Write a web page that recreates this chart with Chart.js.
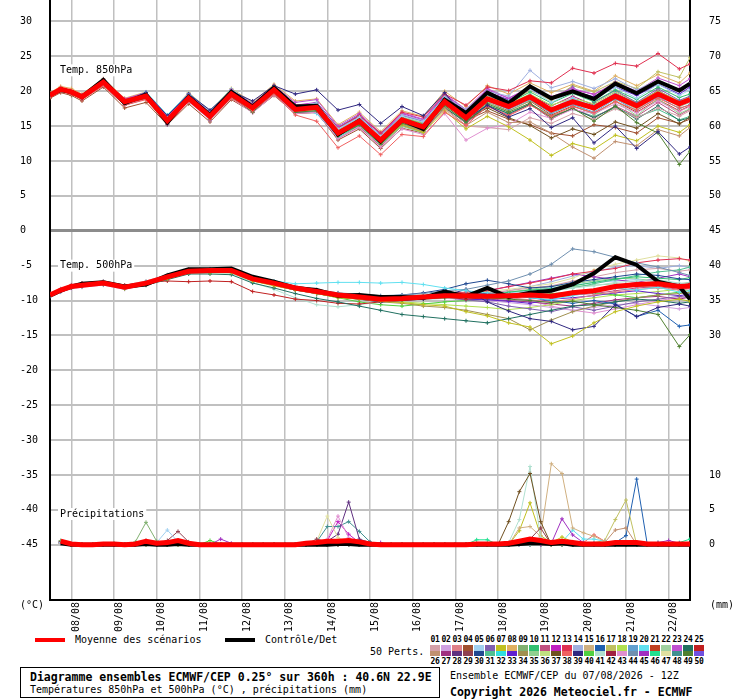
<!DOCTYPE html>
<html>
<head>
<meta charset="utf-8">
<script src="https://cdn.jsdelivr.net/npm/chart.js@4.4.0/dist/chart.umd.min.js"></script>
<style>
  body { margin: 0; background: #fff; width: 740px; height: 700px; position: relative; overflow: hidden;
         font-family: "DejaVu Sans Mono", monospace; font-size: 10px; color: #000; }
  #chart { position: absolute; left: 0; top: 0; }
  .t { position: absolute; white-space: pre; line-height: 12px; }
  .b { font-weight: bold; font-size: 11.5px; line-height: 14px; }
  .bar { position: absolute; height: 4px; width: 30px; }
  .num { position: absolute; width: 11px; text-align: center; font-weight: bold; font-size: 8px; line-height: 10px; letter-spacing: -0.3px; }
  .sw { position: absolute; width: 10px; }
  #box { position: absolute; left: 20px; top: 667px; width: 420px; height: 31px; border: 1px solid #000; box-sizing: border-box; }
</style>
</head>
<body>
<canvas id="chart" width="740" height="634"></canvas>

<div class="t" style="left:20px;top:599px">(°C)</div>
<div class="t" style="left:710px;top:599px">(mm)</div>

<div class="bar" style="left:35px;top:638px;background:#ff0000"></div>
<div class="t" style="left:75px;top:634px">Moyenne des scénarios</div>
<div class="bar" style="left:225px;top:638px;background:#000"></div>
<div class="t" style="left:265px;top:634px">Contrôle/Det</div>
<div class="t" style="left:370px;top:646px">50 Perts.</div>
<div id="perts"></div>

<div id="box"></div>
<div class="t b" style="left:30px;top:670px">Diagramme ensembles ECMWF/CEP 0.25° sur 360h : 40.6N 22.9E</div>
<div class="t" style="left:30px;top:684px">Températures 850hPa et 500hPa (°C) , précipitations (mm)</div>
<div class="t" style="left:450px;top:670px">Ensemble ECMWF/CEP du 07/08/2026 - 12Z</div>
<div class="t b" style="left:450px;top:685px">Copyright 2026 Meteociel.fr - ECMWF</div>

<script>
// ---- data ----------------------------------------------------------------
// forecast hours since 07/08 12Z (temperatures)
const tHours = [0, 6, 12, 18, 30, 42, 54, 66, 78, 90, 102,
                114, 126, 138, 150, 162, 174, 186, 198, 210, 222, 234,
                246, 258, 270, 282, 294, 306, 318, 330, 342, 354, 360];
// forecast hours (6h precipitation)
const pHours = [6, 12, 18, 24, 30, 36, 42, 48, 54, 60,
                66, 72, 78, 84, 90, 96, 102, 108, 114, 120,
                126, 132, 138, 144, 150, 156, 162, 168, 174, 180,
                186, 192, 198, 204, 210, 216, 222, 228, 234, 240,
                246, 252, 258, 264, 270, 276, 282, 288, 294, 300,
                306, 312, 318, 324, 330, 336, 342, 348, 354, 360];

const dayTicks = [12, 36, 60, 84, 108, 132, 156, 180, 204, 228, 252, 276, 300, 324, 348];
const dayLabels = ['08/08', '09/08', '10/08', '11/08', '12/08', '13/08', '14/08', '15/08',
                   '16/08', '17/08', '18/08', '19/08', '20/08', '21/08', '22/08'];
const tempTicks = [-45, -40, -35, -30, -25, -20, -15, -10, -5, 0, 5, 10, 15, 20, 25, 30];

// 850 hPa temperature
const t850Mean = [19.4, 20.3, 19.9, 19.2, 21.3, 18.5, 19.3, 15.8, 19.0, 16.4, 19.6,
                  17.6, 20.2, 17.4, 17.7, 14.0, 15.7, 13.0, 15.9, 14.9, 18.5, 16.2,
                  18.9, 17.8, 19.2, 17.3, 18.5, 17.6, 19.3, 17.9, 19.6, 18.2, 18.8];
const t850Ctrl = [19.5, 20.2, 19.9, 19.2, 21.6, 18.3, 19.5, 15.5, 19.2, 16.6, 19.9,
                  17.8, 20.5, 17.8, 17.9, 13.8, 15.8, 12.8, 15.9, 14.6, 18.8, 16.9,
                  19.8, 18.3, 20.7, 19.0, 20.0, 18.9, 21.1, 19.7, 21.4, 20.1, 21.1];
const t850Ids = [5, 39, 38, 49, 7, 26, 13, 14, 43, 1, 37, 23, 20, 24, 10, 6, 19, 35, 17, 2,
                 4, 8, 11, 12, 18, 21, 22, 27, 31, 33];
const t850Members = [
  [19.6,20.4,20.0,19.3,21.0,18.2,19.6,16.2,19.4,16.9,19.8, 17.9,20.6,17.9,18.3,14.6,16.3,13.5,16.4,15.6,19.1,17.0, 19.6,18.6,20.3,18.4,19.9,18.8,20.6,19.0,21.0,19.4,20.2],
  [19.5,20.2,19.8,19.0,21.2,18.6,19.8,16.5,19.6,17.3,20.0, 18.6,20.8,19.6,20.2,17.3,18.1,15.4,17.8,16.5,19.8,16.0, 18.0,16.3,17.5,14.8,16.2,12.6,15.0,11.8,14.2,11.0,12.0],
  [19.2,20.0,19.6,18.8,20.8,18.0,18.8,15.4,18.6,16.0,19.0, 17.2,19.6,16.6,15.7,11.9,13.6,10.9,13.8,13.5,17.0,15.1, 17.9,16.5,18.0,16.4,17.8,16.9,18.5,17.3,19.0,17.6,18.0],
  [19.3,20.1,19.7,19.0,21.0,18.2,19.0,15.5,18.7,16.0,19.2, 17.0,19.8,17.0,17.2,13.6,15.2,12.6,15.4,14.5,18.0,15.6, 18.2,17.0,18.3,16.2,17.6,15.7,17.9,15.5,14.0,9.5,11.4],
  [19.5,20.2,19.8,19.1,21.1,18.4,19.2,15.7,18.9,16.3,19.4, 17.3,19.9,17.2,17.4,13.7,15.4,12.5,15.2,14.1,17.2,14.6, 16.4,14.9,13.0,10.8,12.5,11.7,13.7,12.9,15.0,14.1,15.2],
  [19.4,20.3,19.9,19.2,21.2,18.5,19.4,15.9,19.1,16.4,19.5, 17.5,20.0,17.5,17.8,14.3,15.9,13.2,15.5,14.2,17.6,15.1, 17.0,15.5,15.6,14.0,12.0,10.4,12.8,12.2,14.5,13.6,14.8],
  [19.6,20.5,20.1,19.4,21.5,18.8,19.6,16.1,19.3,16.8,20.0, 18.0,20.5,18.0,18.2,14.7,16.5,14.0,17.0,16.3,19.6,18.0, 20.6,20.1,21.5,21.2,23.3,22.6,24.0,23.6,25.4,23.2,23.9],
  [19.4,20.2,19.8,19.2,21.3,18.6,19.5,16.0,19.2,16.6,19.8, 17.9,20.4,17.8,18.1,14.5,16.2,13.6,16.6,15.8,19.2,17.4, 20.0,19.3,23.0,20.5,21.4,20.4,21.8,20.2,21.6,20.2,21.0],
  [19.3,20.1,19.7,19.0,20.9,18.1,18.9,15.4,18.5,15.9,19.0, 16.9,19.5,16.8,17.0,13.2,14.8,12.0,14.6,13.8,16.8,13.0, 14.7,15.2,17.0,16.1,17.4,16.8,18.2,16.9,18.6,17.1,17.8],
  [19.4,20.2,19.8,19.1,21.0,18.3,19.1,15.6,18.8,16.2,19.3, 17.4,19.9,17.3,17.5,13.9,15.5,12.8,15.3,14.4,17.4,15.0, 14.8,14.5,16.2,15.4,16.8,16.0,17.5,16.2,17.6,16.4,17.2],
  [19.5,20.3,19.9,19.3,21.2,18.5,19.3,15.8,19.0,16.5,19.5, 17.5,20.1,17.6,17.9,14.2,15.8,13.1,15.8,14.8,18.2,15.9, 17.6,16.2,15.1,13.3,14.6,13.8,15.6,14.7,16.8,15.3,16.3],
  [19.6,20.4,20.0,19.4,21.7,18.9,19.8,16.4,19.6,17.0,20.2, 18.2,20.8,18.4,18.8,15.0,16.8,14.0,16.9,16.0,19.6,17.4, 20.4,19.0,20.6,19.2,20.4,19.5,21.3,20.0,21.9,20.8,21.8],
  [19.5,20.3,19.9,19.3,21.4,18.6,19.9,16.6,19.7,17.2,20.3, 18.2,20.6,17.6,16.8,13.4,15.3,12.7,16.0,15.2,18.8,16.8, 19.0,17.9,19.5,17.5,18.9,17.9,19.6,17.8,19.8,18.1,18.7],
  [19.3,20.1,19.8,19.1,21.1,18.3,19.0,15.6,18.8,16.1,19.2, 17.2,19.8,17.0,17.0,13.5,15.2,12.4,15.3,14.3,17.6,15.6, 18.0,16.8,18.1,16.3,17.5,16.2,17.8,16.0,17.9,15.8,16.2],
  [19.4,20.3,20.0,19.3,21.4,18.7,19.5,16.0,19.2,16.7,19.9, 17.8,20.3,17.7,18.0,14.3,16.0,13.3,16.2,15.3,18.9,16.7, 19.5,18.3,19.9,18.3,19.7,18.5,20.2,18.8,20.6,19.1,19.6],
  [19.5,20.4,20.0,19.4,21.5,18.8,19.7,15.2,19.3,15.8,19.6, 17.6,20.1,17.6,18.4,14.8,16.6,13.8,16.6,15.6,19.4,16.8, 19.9,18.7,20.8,18.9,20.6,18.4,20.1,18.4,20.4,18.7,19.3],
  [19.4,20.2,19.9,19.2,21.2,18.5,19.2,15.7,19.0,16.4,19.6, 17.6,20.1,17.4,17.5,13.6,15.4,12.6,15.6,14.7,18.3,15.8, 18.6,17.4,18.8,16.8,18.1,17.0,18.9,17.2,19.2,17.5,18.1],
  [19.5,20.3,19.9,19.2,21.1,18.4,19.3,15.9,19.1,16.5,19.7, 17.7,20.2,17.3,17.3,13.4,15.1,12.3,15.0,14.0,17.9,15.5, 18.4,17.1,18.7,16.9,18.3,16.6,18.6,16.5,18.9,16.8,17.5],
  [19.6,20.4,20.1,19.4,21.4,18.7,19.6,16.2,19.4,16.8,19.9, 17.9,20.4,17.8,18.1,14.5,16.2,13.5,16.4,15.5,19.0,16.9, 19.8,18.4,20.1,18.7,20.8,19.9,21.4,20.4,22.8,22.0,24.8],
  [19.4,20.2,19.8,19.1,21.2,18.4,19.4,15.8,19.0,16.3,19.5, 17.4,19.9,17.1,17.2,13.8,15.6,12.9,15.8,14.8,18.6,16.1, 18.7,17.6,19.0,17.5,19.1,17.4,19.2,17.7,19.5,18.0,18.5],
  [19.0,19.8,19.4,18.6,20.6,17.6,18.4,15.2,18.2,15.6,18.8, 17.0,19.4,16.8,17.0,13.0,14.6,11.8,14.7,14.0,17.8,15.8, 17.2,16.0,15.2,14.0,13.6,15.2,14.8,14.0,16.2,15.4,16.0],
  [19.8,20.7,20.4,19.6,21.8,19.0,19.9,16.5,19.8,17.2,20.4, 18.4,21.0,18.6,18.9,15.2,17.0,14.2,17.2,16.4,20.0,17.8, 20.8,19.6,21.2,19.8,21.0,20.0,22.2,20.8,22.4,21.2,22.6],
  [19.2,20.0,19.6,18.9,20.8,18.0,18.9,15.4,18.6,16.1,19.1, 17.0,19.6,16.9,16.9,13.2,14.9,12.1,15.0,14.2,17.8,15.4, 17.8,16.6,18.2,16.0,17.6,16.2,17.9,16.4,18.4,16.6,17.4],
  [19.7,20.5,20.1,19.5,21.6,18.9,19.8,16.3,19.5,16.9,20.1, 18.1,20.6,18.0,18.4,14.8,16.6,13.9,16.8,15.9,19.5,17.3, 20.2,19.0,20.5,19.1,20.2,19.6,20.9,19.8,21.2,20.3,21.0],
  [19.5,20.4,20.0,19.4,21.5,18.7,19.7,16.3,19.5,17.0,20.0, 17.9,20.4,17.8,18.0,14.4,16.1,13.4,16.3,15.4,19.2,16.6, 19.2,18.2,19.6,18.0,19.0,18.2,19.9,18.4,20.0,18.6,19.2],
  [19.3,20.1,19.8,19.1,21.1,18.3,19.1,15.7,18.9,16.2,19.4, 17.4,20.0,17.2,17.4,13.8,15.5,12.7,15.6,14.6,18.2,15.9, 18.4,17.2,18.6,16.6,17.9,16.8,18.6,17.0,18.8,17.2,17.9],
  [19.4,20.3,19.9,19.2,21.3,18.5,19.4,15.9,19.1,16.5,19.7, 17.6,20.2,17.5,17.6,13.9,15.6,12.9,15.9,14.9,18.5,16.3, 19.2,17.8,19.3,17.4,18.7,17.3,19.0,17.4,19.4,17.8,18.4],
  [19.6,20.5,20.1,19.3,21.4,18.6,19.4,15.9,19.2,16.6,19.7, 17.7,20.3,17.6,17.9,14.2,15.9,13.1,16.1,15.1,18.7,16.4, 19.4,18.0,19.4,17.9,19.3,18.0,19.7,18.3,20.1,18.5,19.0],
  [19.2,20.0,19.7,19.0,21.0,18.2,19.0,15.5,18.7,16.1,19.2, 17.2,19.8,17.1,17.2,13.4,15.1,12.3,15.1,14.2,17.8,15.4, 18.0,16.8,18.2,16.5,17.4,16.4,17.6,16.3,17.4,15.9,16.4],
  [19.5,20.3,19.9,19.3,21.5,18.7,19.6,16.2,19.4,16.9,19.9, 18.0,20.5,17.9,18.3,14.6,16.4,13.6,16.5,15.7,19.3,17.1, 19.9,18.8,20.2,18.9,20.0,19.2,20.6,19.4,21.0,19.6,20.6]
];

// 500 hPa temperature
const t500Mean = [-9.2, -8.5, -8.0, -7.8, -7.5, -8.1, -7.5, -6.6, -5.8, -5.7, -5.7,
                  -6.9, -7.5, -8.2, -8.7, -9.2, -9.5, -9.8, -9.7, -9.5, -9.3, -9.3,
                  -9.4, -9.3, -9.2, -9.4, -8.9, -8.6, -8.0, -7.7, -7.6, -8.0, -7.9];
const t500Ctrl = [-9.3, -8.6, -8.0, -7.6, -7.4, -8.0, -7.7, -6.4, -5.5, -5.5, -5.4,
                  -6.6, -7.3, -8.2, -8.5, -9.3, -9.2, -9.5, -9.5, -9.6, -8.7, -9.4,
                  -8.2, -9.5, -8.9, -8.6, -7.7, -6.1, -3.8, -4.9, -7.3, -8.0, -9.8];
const t500Ids = [20, 7, 44, 39, 49, 16, 24, 34, 25, 41, 30, 13, 47, 10, 6, 31, 3, 45, 33, 40,
                 1, 2, 5, 11, 14, 18, 22, 27, 35, 43];
const t500Members = [
  [-9.1,-8.4,-7.9,-7.6,-7.3,-7.9,-7.3,-6.4,-5.7,-5.5,-5.6, -6.6,-7.2,-7.6,-7.5,-7.4,-7.4,-7.5,-7.4,-7.7,-8.2,-8.6, -8.9,-9.1,-9.6,-9.9,-9.3,-8.8,-8.2,-8.5,-8.1,-8.8,-8.6],
  [-9.2,-8.6,-8.1,-7.9,-7.6,-8.3,-7.7,-6.9,-6.0,-6.0,-6.0, -7.2,-7.9,-8.5,-9.0,-9.6,-9.8,-10.1,-10.3,-10.6,-10.8,-11.6, -12.2,-13.2,-13.8,-16.2,-15.1,-13.2,-11.6,-10.8,-10.2,-9.8,-10.1],
  [-9.1,-8.4,-7.9,-7.7,-7.3,-8.0,-7.4,-6.5,-5.6,-5.5,-5.5, -6.7,-7.4,-8.0,-8.5,-8.9,-9.1,-9.3,-9.2,-9.0,-8.6,-8.4, -7.8,-7.2,-6.2,-4.8,-2.6,-3.0,-3.8,-4.6,-5.2,-6.0,-6.4],
  [-9.3,-8.6,-8.1,-7.9,-7.6,-8.2,-7.6,-6.8,-6.0,-5.9,-5.9, -7.1,-7.8,-8.5,-9.0,-9.5,-9.8,-10.2,-10.0,-9.8,-9.3,-8.4, -10.2,-11.5,-12.6,-13.0,-14.2,-13.7,-10.6,-12.3,-11.0,-10.5,-10.8],
  [-9.2,-8.5,-8.0,-7.8,-7.5,-8.1,-7.5,-6.7,-5.9,-5.8,-5.8, -7.0,-7.6,-8.3,-8.8,-9.3,-9.6,-9.9,-10.0,-9.8,-9.6,-9.4, -9.6,-9.8,-10.0,-10.3,-10.1,-10.6,-11.0,-11.4,-12.0,-16.6,-14.9],
  [-9.2,-8.5,-8.0,-7.8,-7.4,-8.0,-7.4,-6.5,-5.7,-5.6,-5.6, -6.8,-7.4,-8.1,-8.6,-9.1,-9.4,-9.7,-9.5,-9.4,-9.2,-9.1, -9.0,-9.2,-9.6,-10.0,-10.4,-10.0,-10.5,-12.3,-11.4,-13.7,-13.5],
  [-9.3,-8.7,-8.2,-8.0,-7.7,-8.3,-7.8,-7.0,-6.2,-6.2,-6.3, -7.5,-8.2,-9.0,-9.7,-10.2,-10.8,-11.4,-12.0,-12.3,-12.6,-12.9, -13.2,-12.6,-12.0,-11.4,-10.8,-10.6,-10.2,-9.8,-10.0,-10.4,-10.2],
  [-9.2,-8.5,-8.0,-7.8,-7.5,-8.1,-7.5,-6.7,-5.9,-5.8,-5.8, -7.0,-7.7,-8.4,-8.9,-9.4,-9.8,-10.2,-10.4,-10.8,-11.0,-11.4, -12.0,-12.6,-14.2,-12.8,-11.6,-10.8,-10.2,-9.6,-9.2,-9.0,-8.8],
  [-9.1,-8.4,-7.8,-7.5,-7.3,-7.8,-7.4,-7.2,-7.3,-7.2,-7.3, -8.7,-9.2,-9.8,-10.0,-10.4,-10.5,-10.2,-10.0,-9.6,-9.5,-9.8, -9.6,-9.2,-9.0,-9.3,-8.8,-8.5,-8.0,-7.6,-7.3,-7.8,-7.6],
  [-9.2,-8.5,-8.0,-7.8,-7.5,-8.1,-7.6,-6.8,-6.1,-6.0,-6.1, -7.4,-8.4,-9.6,-10.6,-10.9,-10.6,-10.2,-10.0,-9.8,-9.7,-9.6, -9.4,-9.2,-9.0,-8.7,-8.2,-7.9,-7.4,-7.2,-7.0,-7.5,-7.6],
  [-9.2,-8.6,-8.0,-7.7,-7.4,-8.0,-7.5,-6.5,-5.7,-5.6,-5.6, -6.8,-7.5,-8.1,-8.6,-9.0,-9.2,-9.4,-9.2,-8.9,-8.4,-7.6, -7.1,-7.6,-8.2,-8.0,-7.4,-7.0,-6.6,-6.2,-6.4,-6.9,-7.0],
  [-9.2,-8.5,-8.0,-7.8,-7.5,-8.0,-7.4,-6.6,-5.8,-5.7,-5.8, -6.9,-7.5,-8.2,-8.7,-9.2,-9.5,-9.7,-9.6,-9.4,-9.0,-8.8, -8.6,-8.0,-7.5,-6.9,-6.2,-5.8,-5.4,-4.6,-4.2,-4.0,-4.2],
  [-9.2,-8.5,-8.0,-7.8,-7.5,-8.1,-7.5,-6.6,-5.8,-5.7,-5.8, -7.0,-7.6,-8.3,-8.8,-9.2,-9.4,-9.5,-9.4,-9.2,-9.0,-8.9, -8.7,-8.4,-8.0,-7.6,-6.8,-5.6,-4.8,-4.2,-3.6,-3.9,-4.4],
  [-9.3,-8.6,-8.1,-7.9,-7.6,-8.2,-7.6,-6.7,-5.9,-5.8,-5.9, -7.1,-7.7,-8.4,-8.9,-9.4,-9.7,-10.0,-9.9,-9.6,-9.4,-9.5, -9.3,-8.8,-8.5,-8.3,-7.9,-7.4,-6.9,-6.6,-6.8,-7.0,-6.7],
  [-9.1,-8.4,-7.9,-7.6,-7.4,-8.0,-7.4,-6.5,-5.7,-5.6,-5.6, -6.8,-7.4,-8.1,-8.6,-9.1,-9.4,-9.7,-9.8,-9.7,-9.6,-9.9, -10.2,-10.8,-11.2,-11.6,-10.9,-11.4,-10.8,-10.2,-9.8,-9.4,-9.6],
  [-9.2,-8.6,-8.1,-7.8,-7.6,-8.2,-7.6,-6.7,-5.9,-5.8,-5.8, -7.0,-7.6,-8.3,-8.8,-9.3,-9.6,-9.9,-9.8,-9.6,-9.4,-9.4, -9.5,-9.4,-9.0,-8.6,-8.2,-7.6,-7.0,-6.4,-5.9,-5.6,-5.2],
  [-9.2,-8.5,-8.0,-7.8,-7.5,-8.1,-7.5,-6.6,-5.8,-5.7,-5.7, -6.9,-7.5,-8.2,-8.7,-9.2,-9.5,-9.8,-9.7,-9.5,-9.3,-9.2, -9.4,-9.6,-9.9,-10.2,-9.8,-9.2,-8.8,-8.4,-8.2,-8.5,-8.3],
  [-9.1,-8.4,-7.9,-7.7,-7.4,-8.0,-7.5,-6.6,-5.8,-5.6,-5.6, -6.8,-7.4,-8.1,-8.6,-9.1,-9.4,-9.6,-9.5,-9.3,-9.1,-9.0, -8.6,-8.0,-7.4,-6.8,-6.2,-6.6,-7.0,-7.4,-6.8,-6.2,-6.6],
  [-9.3,-8.6,-8.1,-7.9,-7.6,-8.2,-7.6,-6.7,-5.9,-5.8,-5.9, -7.1,-7.7,-8.4,-8.9,-9.3,-9.6,-9.9,-9.8,-9.7,-9.6,-9.8, -9.9,-10.1,-10.4,-9.8,-9.6,-9.3,-8.9,-8.6,-9.0,-9.3,-9.1],
  [-9.2,-8.5,-8.0,-7.8,-7.5,-8.1,-7.5,-6.7,-5.8,-5.7,-5.8, -7.0,-7.7,-8.4,-9.0,-9.6,-10.2,-10.6,-10.8,-10.5,-10.2,-10.0, -9.8,-9.6,-9.3,-9.0,-8.8,-8.9,-9.2,-9.6,-9.2,-8.8,-9.0],
  [-9.0,-8.3,-7.7,-7.5,-7.2,-7.8,-7.2,-6.3,-5.5,-5.4,-5.4, -6.6,-7.2,-7.9,-8.4,-8.9,-9.2,-9.5,-9.5,-9.3,-9.1,-9.0, -8.9,-8.6,-8.2,-7.9,-7.2,-6.6,-6.0,-5.6,-5.4,-5.8,-5.6],
  [-9.4,-8.8,-8.3,-8.1,-7.8,-8.4,-7.8,-6.9,-6.1,-6.0,-6.0, -7.2,-7.8,-8.5,-9.0,-9.5,-9.8,-10.1,-10.0,-9.8,-9.7,-9.8, -10.0,-10.3,-10.6,-11.0,-11.4,-11.0,-10.6,-10.4,-10.8,-11.2,-11.0],
  [-9.1,-8.4,-7.9,-7.7,-7.4,-8.0,-7.4,-6.5,-5.7,-5.6,-5.6, -6.8,-7.4,-8.1,-8.6,-9.1,-9.4,-9.6,-9.6,-9.4,-9.1,-8.9, -8.8,-8.9,-8.6,-8.2,-7.8,-7.4,-7.2,-7.0,-7.3,-7.6,-7.5],
  [-9.3,-8.6,-8.1,-7.9,-7.6,-8.2,-7.6,-6.7,-5.9,-5.8,-5.8, -7.0,-7.6,-8.3,-8.9,-9.4,-9.7,-10.0,-9.9,-9.7,-9.5,-9.6, -9.7,-9.5,-9.4,-9.6,-9.2,-9.0,-8.6,-8.2,-8.0,-8.4,-8.2],
  [-9.2,-8.5,-8.0,-7.7,-7.4,-8.0,-7.4,-6.5,-5.7,-5.6,-5.6, -6.8,-7.4,-8.1,-8.6,-9.1,-9.4,-9.6,-9.5,-9.3,-9.2,-9.1, -9.0,-8.6,-8.0,-7.3,-6.5,-5.9,-5.2,-5.0,-5.4,-5.0,-5.3],
  [-9.2,-8.6,-8.1,-7.9,-7.6,-8.2,-7.6,-6.8,-6.0,-5.9,-6.0, -7.2,-7.8,-8.5,-9.0,-9.5,-9.8,-10.1,-10.2,-10.4,-10.6,-10.8, -11.0,-11.3,-11.0,-10.6,-10.0,-9.6,-9.2,-9.0,-8.7,-8.4,-8.6],
  [-9.1,-8.4,-7.9,-7.7,-7.4,-8.0,-7.4,-6.6,-5.8,-5.7,-5.7, -6.9,-7.5,-8.2,-8.7,-9.2,-9.5,-9.8,-9.7,-9.5,-9.3,-9.3, -9.2,-9.0,-8.8,-8.5,-8.0,-7.8,-7.6,-7.9,-8.2,-8.1,-8.0],
  [-9.2,-8.5,-8.0,-7.8,-7.5,-8.1,-7.5,-6.6,-5.8,-5.7,-5.8, -7.0,-7.6,-8.3,-8.8,-9.3,-9.6,-9.9,-9.8,-9.6,-9.5,-9.6, -9.8,-10.0,-10.2,-10.5,-10.8,-10.4,-9.9,-9.6,-9.4,-9.8,-9.5],
  [-9.3,-8.6,-8.1,-7.9,-7.6,-8.2,-7.6,-6.7,-5.9,-5.8,-5.9, -7.1,-7.7,-8.4,-8.9,-9.4,-9.7,-10.0,-9.9,-9.7,-9.4,-9.3, -9.1,-8.8,-8.4,-8.0,-7.6,-7.2,-6.8,-6.9,-7.2,-7.6,-7.4],
  [-9.1,-8.4,-7.9,-7.7,-7.4,-8.0,-7.4,-6.5,-5.7,-5.6,-5.6, -6.8,-7.4,-8.1,-8.6,-9.1,-9.4,-9.7,-9.6,-9.4,-9.2,-9.1, -9.3,-9.6,-10.0,-10.8,-11.4,-11.8,-11.2,-10.6,-10.0,-9.6,-9.4]
];

// 6h precipitation (mm)
const precipMean = [
  0.5,0.1,0,0,0.1,0.1,0,0.1,0.5,0.2,
  0.3,0.6,0.2,0,0,0,0,0,0,0,
  0,0,0,0.2,0.3,0.5,0.5,0.6,0.4,0.1,
  0,0,0,0,0,0,0,0,0,0.1,
  0.1,0.1,0.2,0.5,0.8,0.6,0.3,0.5,0.3,0.1,
  0.1,0.1,0.3,0.3,0.3,0.1,0.1,0.1,0.1,0.1];
const precipCtrl = [
  0.2,0,0,0,0,0,0,0,0.1,0,
  0,0.1,0,0,0,0,0,0,0,0,
  0,0,0,0,0,0,0.1,0.1,0,0,
  0,0,0,0,0,0,0,0,0,0,
  0,0,0,0.1,0.2,0.2,0.1,0.2,0,0,
  0,0,0,0,0,0,0,0,0,0];
const precipIds = [9, 5, 29, 45, 37, 41, 15, 7, 20, 38, 17, 26, 16, 46, 47, 43, 28, 48, 12, 40];
const precipMembers = [
  [0.6,0,0,0,0.1,0.2,0,0.4,3.2,0.5, 0.2,0.3,0,0,0,0,0,0,0,0, 0,0,0,0,0,0,0,0,0,0, 0,0,0,0,0,0,0,0,0,0, 0,0,0,0.3,0.6,0.2,0,0,0,0, 0,0,0,0,0,0,0,0,0,0],
  [0.3,0.1,0,0,0,0.2,0,0,0.4,0.3, 2.1,0.4,0,0,0,0,0,0,0,0, 0,0,0,0,0,0.3,0.5,0.2,0,0, 0,0,0,0,0,0,0,0,0,0, 0,0,0,0,0.4,0.5,0.2,0,0,0, 0,0,0,0,0,0,0,0,0,0],
  [0.5,0,0,0,0,0,0,0,0.6,0.2, 0.6,1.9,0.4,0,0,0,0,0,0,0, 0,0,0,0,0.8,0.4,0.3,0.2,0,0, 0,0,0,0,0,0,0,0,0,0, 0,0,0,0.5,0.8,2.4,0,0,0,0, 0,0,0,0,0,0,0,0,0,0],
  [0.3,0,0,0,0,0,0,0,0.2,0, 0.2,0.3,0,0,0,0.8,0.2,0,0,0, 0,0,0,0,0,0,0,0,0,0, 0.3,0,0,0,0,0,0,0,0,0, 0,0,0,0,0.3,0,0.2,3.7,1.4,0.3, 0.2,0,0,0,0,0,0.3,0.6,0.2,0],
  [0.4,0,0,0,0,0,0,0,0.3,0, 0,0.5,0,0,0,0,0,0,0,0, 0,0,0,0,0,0,0,0,0,0, 0,0,0,0,0,0,0,0,0,0, 0,0,3.3,7.6,10.2,3.3,0,0,0,0, 0,0,0,0,0,0,0,0,0,0],
  [0.2,0,0,0,0,0,0,0,0,0, 0,0,0,0,0,0,0,0,0,0, 0,0,0,0,0,0.2,0.4,0,0,0, 0,0,0,0,0,0,0,0,0,0, 0,0,0.3,3.6,11.2,1.0,0,0,0,0, 0,0,0,0,0,0,0,0,0,0],
  [0.3,0,0,0,0,0,0,0,0,0, 0,0.2,0,0,0,0,0,0,0,0, 0,0,0,0,0,0,0,0,0,0, 0,0,0,0,0,0,0,0,0,0, 0,0,0,2.4,2.6,1.2,11.6,10.2,2.4,1.7, 1.2,0.5,0,0,0,0,0,0,0,0],
  [0.3,0,0,0,0,0,0,0,0,0, 0,0,0,0,0,0,0,0,0,0, 0,0,0,0,0,0,0,0.4,0.2,0, 0,0,0,0,0,0,0,0,0,0, 0,0,0,2.0,6.0,1.3,0.3,1.1,0.4,0, 0,0,0,0,0,0,0,0,0,0],
  [0.4,0,0,0,0,0,0,0,0.2,0, 0,0.3,0,0,0,0,0,0,0,0, 0,0,0,0,0,0,0,0,0,0, 0,0,0,0,0,0,0,0,0,0, 0,0,0,0,0,0,0.2,0.4,2.1,0.8, 0.8,0.5,0.3,0,0,0,0,0,0,0],
  [0.2,0,0,0,0,0,0,0,0,0, 0,0,0,0,0,0,0,0,0,0, 0,0,0,0,0,0,0,0,0,0, 0,0,0,0,0,0,0,0,0,0, 0,0,0,0,0,0,0,0,0,0.3, 1.4,0.5,0.2,0,0,0,0,0,0,0],
  [0.3,0,0,0,0,0,0,0,0,0, 0,0,0,0,0,0,0,0,0,0, 0,0,0,0,0,0,0,0,0,0, 0,0,0,0,0,0,0,0,0,0, 0,0,0,0,0,0,0,0,0,0, 0.3,0.6,3.6,6.4,0,0,0,0,0,0],
  [0.2,0,0,0,0,0,0,0,0,0, 0,0,0,0,0,0,0,0,0,0, 0,0,0,0,0,0,0,0,0,0, 0,0,0,0,0,0,0,0,0,0, 0,0,0,0,0,0,0,0,0,0, 0,0.3,2.1,2.4,0,0,0,0,0,0],
  [0.3,0,0,0,0,0,0,0,0,0, 0,0,0,0,0,0,0,0,0,0, 0,0,0,0,0,0.2,0,0,0,0, 0,0,0,0,0,0,0,0,0,0, 0,0,0,0,0,0,0,0,0,0, 0,0,0.3,1.3,9.4,0,0,0,0,0],
  [0.2,0,0,0,0,0,0,0,0,0, 0,0,0,0,0,0,0,0,0,0, 0,0,0,0,0,0,0,0,0,0, 0,0,0,0,0,0,0,0,0,0.7, 0.7,0,0,0,0,0,0,0,0,0, 0,0,0,0,0,0,0.3,0,0.3,0.8],
  [0.3,0,0,0,0,0,0,0,0,0, 0,0,0,0,0,0,0,0,0,0, 0,0,0,0.2,0.5,4.1,1.0,0.3,0,0, 0,0,0,0,0,0,0,0,0,0, 0,0,0,0,0,0,0,0,0,0, 0,0,0,0,0,0,0,0,0,0],
  [0.2,0,0,0,0,0,0,0,0,0, 0,0,0,0,0,0,0,0,0,0, 0,0,0,0,0.3,0.8,4.1,1.0,0.2,0, 0,0,0,0,0,0,0,0,0,0, 0,0,0,0,0,0,0,0,0,0, 0,0,0,0,0,0,0,0,0,0],
  [0.3,0,0,0,0,0,0,0,0,0, 0,0,0,0,0,0,0,0,0,0, 0,0,0,0,0.2,0.5,1.5,6.1,0.8,0.3, 0,0,0,0,0,0,0,0,0,0, 0,0,0,0,0,0,0,0,0,0, 0,0,0,0,0,0,0,0,0,0],
  [0.4,0,0,0,0,0,0,0,0,0, 0,0,0,0,0,0,0,0,0,0, 0,0,0,0,0.4,2.6,2.6,3.3,1.9,0.4, 0,0,0,0,0,0,0,0,0,0, 0,0,0,0,0,0,0,0,0,0, 0,0,0,0,0,0,0,0,0,0],
  [0.2,0,0,0,0,0,0,0,0,0, 0,0,0,0,0,0,0,0,0,0, 0,0,0,0,0,0.6,3.3,1.5,0.3,0, 0,0,0,0,0,0,0,0,0,0, 0,0,0,0,0,0,0,0,0,0, 0,0,0,0,0,0,0,0,0,0],
  [0.3,0,0,0,0,0,0,0,0,0, 0,0.2,0,0,0.6,0.1,0,0,0,0, 0,0,0,0,0,0,0,0,0,0, 0,0,0,0,0,0,0,0,0,0, 0,0,0,0,0,0,0.4,0,0,0, 0,0,0,0,0,0,0,0,0,0]
];

// precipitation sits on the temperature axis: 0 mm at -45 °C
const PRECIP_OFFSET = 45;

// member colours 01..50
const memberColors = [
  '#d4a0a8','#d0a0e0','#e08088','#a05030','#a0d0f0','#8060b0','#c0c020','#e0b060','#80b070','#30c070',
  '#c05080','#c020c0','#e03050','#a0b0e0','#d0b080','#2060b0','#c0c060','#b0e050','#60a0d0','#60e0f0',
  '#c04020','#a0d0a0','#c050d0','#207060','#c02020',
  '#c09070','#a03080','#603080','#904050','#204890','#50c090','#30e0e0','#6020d0','#a09050','#90d090',
  '#c0e080','#705020','#f06060','#302880','#50d040','#b0e0d0','#a02040','#e090d0','#7090b0','#a030c0',
  '#20e090','#e0e0a0','#409090','#508030','#7050e0'
];

// ---- chart ---------------------------------------------------------------
const FONT = '"DejaVu Sans Mono", monospace';

function toPoints(hours, values, shift) {
  return hours.map((h, i) => ({ x: h, y: values[i] - shift }));
}

function memberSet(id, hours, values, shift) {
  const c = memberColors[id - 1];
  return {
    data: toPoints(hours, values, shift),
    borderColor: c, borderWidth: 1,
    pointStyle: 'cross', pointRadius: 2, pointBorderWidth: 1,
    pointBorderColor: c, pointBackgroundColor: c,
    order: 3
  };
}

function mainSet(hours, values, shift, color, width, order) {
  return {
    data: toPoints(hours, values, shift),
    borderColor: color, borderWidth: width, pointRadius: 0, order: order
  };
}

const datasets = [];
t850Ids.forEach((id, i) => datasets.push(memberSet(id, tHours, t850Members[i], 0)));
t500Ids.forEach((id, i) => datasets.push(memberSet(id, tHours, t500Members[i], 0)));
precipIds.forEach((id, i) => datasets.push(memberSet(id, pHours, precipMembers[i], PRECIP_OFFSET)));
datasets.push(mainSet(tHours, t850Ctrl, 0, '#000', 4, 1));
datasets.push(mainSet(tHours, t500Ctrl, 0, '#000', 4, 1));
datasets.push(mainSet(pHours, precipCtrl, PRECIP_OFFSET, '#000', 4, 1));
datasets.push(mainSet(tHours, t850Mean, 0, '#ff0000', 5, 0));
datasets.push(mainSet(tHours, t500Mean, 0, '#ff0000', 5, 0));
datasets.push(mainSet(pHours, precipMean, PRECIP_OFFSET, '#ff0000', 5, 0));

// panel titles, with a white box behind them like the original
const panelTitles = [['Temp. 850hPa', 23], ['Temp. 500hPa', -5], ['Précipitations', -40.6]];
const panelLabels = {
  id: 'panelLabels',
  beforeDatasetsDraw(chart) {
    const { ctx, chartArea, scales } = chart;
    ctx.save();
    ctx.font = '10px ' + FONT;
    ctx.textBaseline = 'middle';
    panelTitles.forEach(([text, v]) => {
      const y = scales.y.getPixelForValue(v);
      const w = ctx.measureText(text).width;
      ctx.fillStyle = '#fff';
      ctx.fillRect(chartArea.left + 8, y - 6, w + 4, 12);
      ctx.fillStyle = '#000';
      ctx.fillText(text, chartArea.left + 10, y);
    });
    ctx.restore();
  }
};

const setTempTicks = scale => { scale.ticks = tempTicks.map(v => ({ value: v })); };

new Chart(document.getElementById('chart'), {
  type: 'line',
  data: { datasets: datasets },
  plugins: [panelLabels],
  options: {
    responsive: false,
    animation: false,
    layout: { autoPadding: false, padding: { left: 20, right: 0, top: 0, bottom: 0 } },
    plugins: { legend: { display: false }, tooltip: { enabled: false } },
    elements: { line: { tension: 0 } },
    scales: {
      x: {
        type: 'linear', min: 0, max: 360,
        afterBuildTicks: s => { s.ticks = dayTicks.map(v => ({ value: v })); },
        afterFit: s => { s.height = 34; s.paddingLeft = 0; s.paddingRight = 0; },
        ticks: {
          autoSkip: false, minRotation: 90, maxRotation: 90, labelOffset: 5, padding: 2,
          color: '#000', font: { family: FONT, size: 10 },
          callback: (v, i) => dayLabels[i]
        },
        grid: { color: '#c0c0c0', lineWidth: 1.5, drawTicks: false },
        border: { color: '#000', width: 2 }
      },
      y: {
        position: 'left', min: -52.93, max: 33.08,
        afterBuildTicks: setTempTicks,
        afterFit: s => { s.width = 30; s.paddingTop = 0; s.paddingBottom = 0; },
        ticks: {
          crossAlign: 'far', color: '#000', font: { family: FONT, size: 10 },
          callback: v => String(v)
        },
        grid: {
          drawTicks: false,
          color: c => (c.tick && c.tick.value === 0 ? '#8c8c8c' : '#c0c0c0'),
          lineWidth: c => (c.tick && c.tick.value === 0 ? 3 : 2)
        },
        border: { color: '#000', width: 2 }
      },
      y2: {
        position: 'right', min: -52.93, max: 33.08,
        afterBuildTicks: setTempTicks,
        afterFit: s => { s.width = 50; s.paddingTop = 0; s.paddingBottom = 0; },
        ticks: {
          crossAlign: 'near', padding: 19, color: '#000', font: { family: FONT, size: 10 },
          // right axis: 850 hPa 50..75, 500 hPa 30..45 (shifted), precipitation 0..10 mm
          callback: v => {
            const r = v + PRECIP_OFFSET;
            return (r >= 30 || r <= 10) ? String(r) : '';
          }
        },
        grid: { display: false, drawTicks: false },
        border: { color: '#000', width: 2 }
      }
    }
  }
});

// perturbation colour key
const perts = document.getElementById('perts');
for (let k = 0; k < 25; k++) {
  const left = 430 + 11 * k;
  const top = String(k + 1).padStart(2, '0');
  const bottom = String(k + 26).padStart(2, '0');
  perts.insertAdjacentHTML('beforeend',
    `<div class="num" style="left:${left - 0.5}px;top:635px">${top}</div>` +
    `<div class="sw" style="left:${left}px;top:645px;height:6px;background:${memberColors[k]}"></div>` +
    `<div class="sw" style="left:${left}px;top:651px;height:5px;background:${memberColors[k + 25]}"></div>` +
    `<div class="num" style="left:${left - 0.5}px;top:657px">${bottom}</div>`);
}
</script>
</body>
</html>
